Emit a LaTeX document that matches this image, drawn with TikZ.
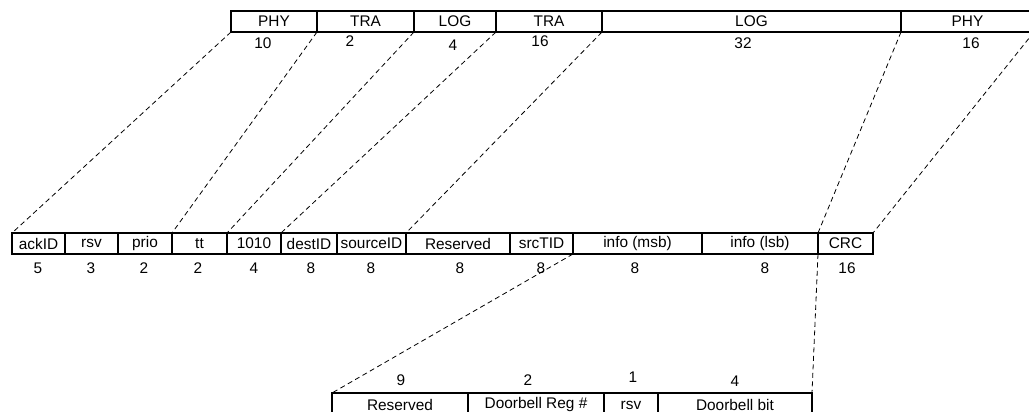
\documentclass[tikz,border=0pt]{standalone}
\usepackage{fontspec}
\setmainfont{Liberation Sans}
\begin{document}
\begin{tikzpicture}[
        x=1pt, y=-1pt,
        field/.style={draw, line width=1.1pt, rectangle, anchor=north west, inner sep=0pt, outer sep=0pt, minimum height=21pt, font=\fontsize{15.4}{18}\selectfont},
        bits/.style={font=\fontsize{15.4}{18}\selectfont, inner sep=1pt},
        link/.style={dash pattern=on 5pt off 3.5pt, line width=0.8pt} % Style for the dashed mapping lines
    ]
    \useasboundingbox (0,0) rectangle (1029,412);

    % --- Top Row: Layers ---
    \node[field, minimum width=86pt] (phy1) at (231,11) {PHY};
    \node[field, minimum width=97pt] (tra1) at (317,11) {TRA};
    \node[field, minimum width=82pt] (log1) at (414,11) {LOG};
    \node[field, minimum width=106pt] (tra2) at (496,11) {TRA};
    \node[field, minimum width=299pt] (log2) at (602,11) {LOG};
    \node[field, minimum width=133pt] (phy2) at (901,11) {PHY};

    \node[bits] (nphy1) at (263,43.5) {10};
    \node[bits] (ntra1) at (350,41.5) {2};
    \node[bits] (nlog1) at (453,45) {4};
    \node[bits] (ntra2) at (540,41) {16};
    \node[bits] (nlog2) at (743,43.5) {32};
    \node[bits] (nphy2) at (971,43.5) {16};

    % --- Middle Row: Packet Fields ---
    \node[field, minimum width=53pt] (ack) at (12,233) {ackID};
    \node[field, minimum width=53pt] (rsv) at (65,233) {rsv};
    \node[field, minimum width=54pt] (prio) at (118,233) {prio};
    \node[field, minimum width=55pt] (tt) at (172,233) {tt};
    \node[field, minimum width=54pt] (ftype) at (227,233) {1010};
    \node[field, minimum width=56pt] (dest) at (281,233) {destID};
    \node[field, minimum width=69pt] (src) at (337,233) {sourceID};
    \node[field, minimum width=104pt] (resv) at (406,233) {Reserved};
    \node[field, minimum width=63pt] (tid) at (510,233) {srcTID};
    \node[field, minimum width=129pt] (msb) at (573,233) {info (msb)};
    \node[field, minimum width=116pt] (lsb) at (702,233) {info (lsb)};
    \node[field, minimum width=55pt] (crc) at (818,233) {CRC};

    \node[bits] (nack) at (38,268) {5};
    \node[bits] (nrsv) at (91,268) {3};
    \node[bits] (nprio) at (144,268) {2};
    \node[bits] (ntt) at (198,268) {2};
    \node[bits] (nftype) at (254,268) {4};
    \node[bits] (ndest) at (311,268) {8};
    \node[bits] (nsrc) at (371,268) {8};
    \node[bits] (nresv) at (460,268) {8};
    \node[bits] (ntid) at (541,268) {8};
    \node[bits] (nmsb) at (635,268) {8};
    \node[bits] (nlsb) at (765,268) {8};
    \node[bits] (ncrc) at (847,268) {16};

    % --- Bottom Row: Doorbell Info ---
    \node[field, minimum width=136pt, minimum height=24pt] (dbres) at (332,393) {Reserved};
    \node[field, minimum width=136pt, minimum height=24pt] (dbreg) at (468,393) {Doorbell Reg \#};
    \node[field, minimum width=54pt, minimum height=24pt] (dbrsv) at (604,393) {rsv};
    \node[field, minimum width=154pt, minimum height=24pt] (dbbit) at (658,393) {Doorbell bit};

    \node[bits] (ndbres) at (401,380) {9};
    \node[bits] (ndbreg) at (528,380) {2};
    \node[bits] (ndbrsv) at (633,377) {1};
    \node[bits] (ndbbit) at (735,381) {4};

    % --- Dashed Mapping Lines ---
    \draw[link] (phy1.south west) -- (ack.north west);
    \draw[link] (tra1.south west) -- (tt.north west);
    \draw[link] (log1.south west) -- (ftype.north west);
    \draw[link] (tra2.south west) -- (dest.north west);
    \draw[link] (log2.south west) -- (resv.north west);
    \draw[link] (phy2.south west) -- (crc.north west);
    \draw[link] (phy2.south east) -- (crc.north east);

    \draw[link] (msb.south west) -- (dbres.north west);
    \draw[link] (crc.south west) -- (dbbit.north east);

\end{tikzpicture}
\end{document}
